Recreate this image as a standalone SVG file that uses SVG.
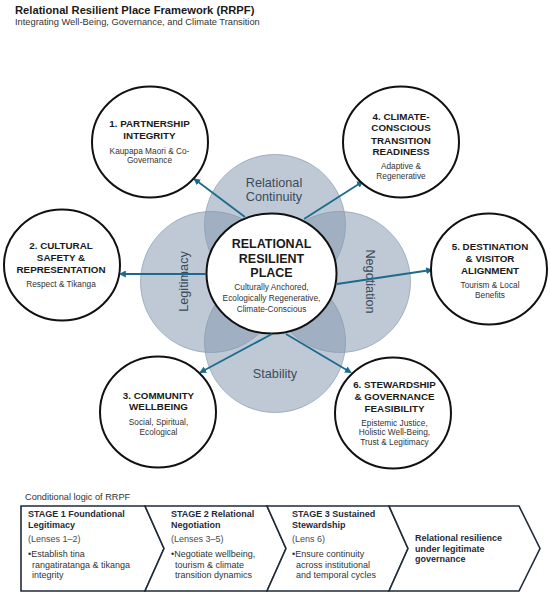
<svg xmlns="http://www.w3.org/2000/svg" width="550" height="597" viewBox="0 0 550 597">
<style>
  text { font-family: "Liberation Sans", Arial, sans-serif; }
  .title { font-size: 11.2px; font-weight: bold; fill: #1a1a1a; }
  .sub { font-size: 9.3px; fill: #333; }
  .petal { fill: #879bb1; fill-opacity: 0.54; stroke: #7f93a8; stroke-opacity: 0.6; stroke-width: 1; }
  .plabel { font-size: 12.7px; fill: #3b4b5c; text-anchor: middle; }
  .node { fill: #fff; stroke: #111; stroke-width: 2; }
  .h { font-size: 9.8px; font-weight: bold; fill: #1a1a1a; text-anchor: middle; }
  .d { font-size: 8.3px; fill: #333; text-anchor: middle; }
  .ch { font-size: 12.5px; font-weight: bold; fill: #1a1a1a; text-anchor: middle; }
  .conn { stroke: #1c6b8c; stroke-width: 1.8; fill: none; marker-end: url(#ah); }
  .chev { fill: #fff; stroke: #1f2b38; stroke-width: 1.6; stroke-linejoin: miter; }
  .sh { font-size: 9px; font-weight: bold; fill: #1e2b3a; }
  .sl { font-size: 9px; fill: #4a4a4a; }
  .sb { font-size: 9px; fill: #333; }
</style>
<defs>
  <marker id="ah" viewBox="0 0 10 10" refX="7" refY="5" markerUnits="userSpaceOnUse" markerWidth="7" markerHeight="7" orient="auto">
    <path d="M0,0 L10,5 L0,10 z" fill="#1c6b8c"/>
  </marker>
</defs>

<text class="title" x="15" y="13.5">Relational Resilient Place Framework (RRPF)</text>
<text class="sub" x="15" y="25">Integrating Well-Being, Governance, and Climate Transition</text>

<g id="petals">
  <g id="petal-continuity">
    <circle class="petal" cx="275" cy="225" r="70.5"/>
    <text class="plabel" x="274" y="187">Relational</text>
    <text class="plabel" x="274" y="201">Continuity</text>
  </g>
  <g id="petal-legitimacy">
    <circle class="petal" cx="211" cy="282" r="70.5"/>
    <text class="plabel" transform="translate(188,281.5) rotate(-90)" x="0" y="0">Legitimacy</text>
  </g>
  <g id="petal-negotiation">
    <circle class="petal" cx="340" cy="282" r="70.5"/>
    <text class="plabel" transform="translate(365.5,281.5) rotate(90)" x="0" y="0">Negotiation</text>
  </g>
  <g id="petal-stability">
    <circle class="petal" cx="275" cy="342" r="70.5"/>
    <text class="plabel" x="275" y="377.5">Stability</text>
  </g>
</g>

<g id="center">
  <ellipse class="node" cx="271.5" cy="273.5" rx="65" ry="60"/>
  <text class="ch" x="271.5" y="247.8">RELATIONAL</text>
  <text class="ch" x="271.5" y="262.5">RESILIENT</text>
  <text class="ch" x="271.5" y="277.2">PLACE</text>
  <text class="d" x="271.5" y="289.7">Culturally Anchored,</text>
  <text class="d" x="271.5" y="300.7">Ecologically Regenerative,</text>
  <text class="d" x="271.5" y="311.7">Climate-Conscious</text>
</g>

<g id="connectors">
  <line class="conn" x1="245" y1="217" x2="195" y2="179.5"/>
  <line class="conn" x1="304" y1="219" x2="362" y2="182"/>
  <line class="conn" x1="206" y1="274" x2="121" y2="274"/>
  <line class="conn" x1="337" y1="284" x2="431" y2="270"/>
  <line class="conn" x1="272" y1="334" x2="201" y2="372"/>
  <line class="conn" x1="286" y1="334" x2="350" y2="372"/>
</g>

<g id="lens1">
  <ellipse class="node" cx="150" cy="142" rx="58" ry="55.5"/>
  <text class="h" x="149.5" y="127">1. PARTNERSHIP</text>
  <text class="h" x="149.5" y="138.7">INTEGRITY</text>
  <text class="d" x="149.5" y="153.5">Kaupapa Maori &amp; Co-</text>
  <text class="d" x="149.5" y="163">Governance</text>
</g>

<g id="lens4">
  <ellipse class="node" cx="401" cy="142" rx="58" ry="55.5"/>
  <text class="h" x="401" y="119.7">4. CLIMATE-</text>
  <text class="h" x="401" y="131.3">CONSCIOUS</text>
  <text class="h" x="401" y="143.6">TRANSITION</text>
  <text class="h" x="401" y="155">READINESS</text>
  <text class="d" x="401" y="169">Adaptive &amp;</text>
  <text class="d" x="401" y="178.7">Regenerative</text>
</g>

<g id="lens2">
  <ellipse class="node" cx="62" cy="265" rx="58" ry="55.5"/>
  <text class="h" x="61" y="249.3">2. CULTURAL</text>
  <text class="h" x="61" y="261.3">SAFETY &amp;</text>
  <text class="h" x="61" y="273">REPRESENTATION</text>
  <text class="d" x="61" y="287">Respect &amp; Tikanga</text>
</g>

<g id="lens5">
  <ellipse class="node" cx="489" cy="269" rx="58" ry="55.5"/>
  <text class="h" x="490" y="250.3">5. DESTINATION</text>
  <text class="h" x="490" y="262.3">&amp; VISITOR</text>
  <text class="h" x="490" y="274.3">ALIGNMENT</text>
  <text class="d" x="490" y="288">Tourism &amp; Local</text>
  <text class="d" x="490" y="298">Benefits</text>
</g>

<g id="lens3">
  <ellipse class="node" cx="158" cy="412" rx="58" ry="55.5"/>
  <text class="h" x="158.5" y="398.7">3. COMMUNITY</text>
  <text class="h" x="158.5" y="410.3">WELLBEING</text>
  <text class="d" x="158.5" y="424.7">Social, Spiritual,</text>
  <text class="d" x="158.5" y="434.7">Ecological</text>
</g>

<g id="lens6">
  <ellipse class="node" cx="393" cy="413" rx="58" ry="55.5"/>
  <text class="h" x="394.5" y="388">6. STEWARDSHIP</text>
  <text class="h" x="394.5" y="399.7">&amp; GOVERNANCE</text>
  <text class="h" x="394.5" y="412">FEASIBILITY</text>
  <text class="d" x="394.5" y="425.7">Epistemic Justice,</text>
  <text class="d" x="394.5" y="435.3">Holistic Well-Being,</text>
  <text class="d" x="394.5" y="444.7">Trust &amp; Legitimacy</text>
</g>

<text class="sub" x="25" y="500.3" style="font-size:9.2px">Conditional logic of RRPF</text>

<g id="stage1">
  <polygon class="chev" points="21,506 145,506 164,548.5 145,591 21,591"/>
  <text class="sh" x="28" y="516.5">STAGE 1 Foundational</text>
  <text class="sh" x="28" y="527.5">Legitimacy</text>
  <text class="sl" x="28" y="541.5">(Lenses 1–2)</text>
  <text class="sb" x="28" y="556.5">•Establish tina</text>
  <text class="sb" x="32" y="567.5">rangatiratanga &amp; tikanga</text>
  <text class="sb" x="32" y="578">integrity</text>
</g>

<g id="stage2">
  <polygon class="chev" points="145,506 267,506 286,548.5 267,591 145,591 164,548.5"/>
  <text class="sh" x="171" y="516.5">STAGE 2 Relational</text>
  <text class="sh" x="171" y="527.5">Negotiation</text>
  <text class="sl" x="171" y="541.5">(Lenses 3–5)</text>
  <text class="sb" x="171" y="556.5">•Negotiate wellbeing,</text>
  <text class="sb" x="175" y="567.5">tourism &amp; climate</text>
  <text class="sb" x="175" y="578">transition dynamics</text>
</g>

<g id="stage3">
  <polygon class="chev" points="267,506 389,506 408,548.5 389,591 267,591 286,548.5"/>
  <text class="sh" x="292" y="516.5">STAGE 3 Sustained</text>
  <text class="sh" x="292" y="527.5">Stewardship</text>
  <text class="sl" x="292" y="541.5">(Lens 6)</text>
  <text class="sb" x="292" y="556.5">•Ensure continuity</text>
  <text class="sb" x="296" y="567.5">across institutional</text>
  <text class="sb" x="296" y="578">and temporal cycles</text>
</g>

<g id="outcome">
  <polygon class="chev" points="389,506 519,506 540,548.5 519,591 389,591 408,548.5"/>
  <text class="sh" x="415" y="541">Relational resilience</text>
  <text class="sh" x="415" y="551.5">under legitimate</text>
  <text class="sh" x="415" y="562">governance</text>
</g>
</svg>
